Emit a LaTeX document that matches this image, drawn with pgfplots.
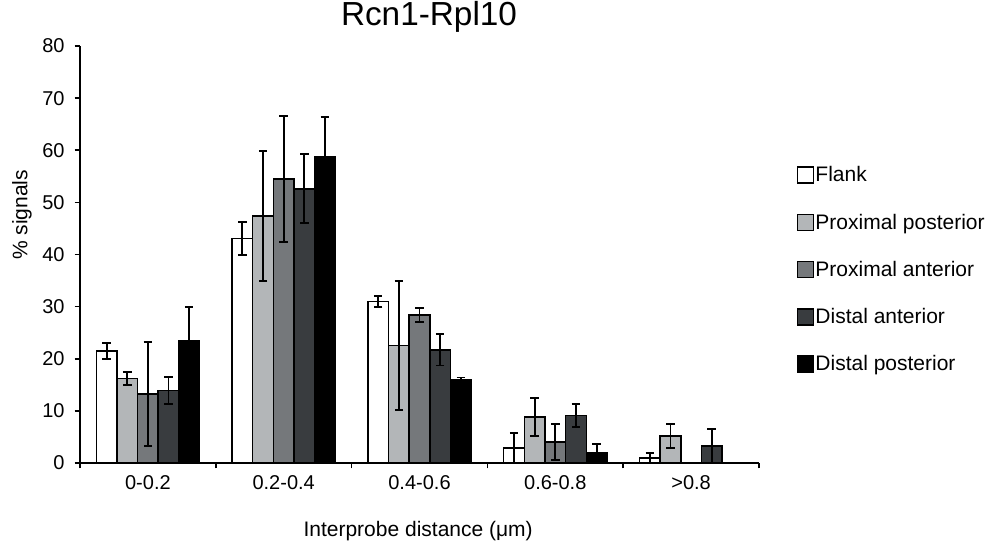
\documentclass[border=0pt]{standalone}
\usepackage{pgfplots}
\pgfplotsset{compat=1.18}
\usepackage{fontspec}
\setmainfont{Liberation Sans}
\definecolor{cLight}{HTML}{B3B6B8}
\definecolor{cMid}{HTML}{75787B}
\definecolor{cDark}{HTML}{393C3F}
\begin{document}
\begin{tikzpicture}
\path[use as bounding box] (0,0) rectangle (741.75pt,405pt);
\begin{axis}[
  at={(60pt,57.75pt)}, anchor=south west,
  scale only axis, width=509.25pt, height=312.75pt,
  xmin=-0.5, xmax=4.5, ymin=0, ymax=80,
  axis x line*=bottom, axis y line*=left,
  axis line style={line width=1.2pt},
  every tick/.style={line width=1.2pt, black},
  tick align=outside, major tick length=4pt,
  xtick={-0.5,0.5,...,4.5},
  x tick label as interval,
  xticklabels={0-0.2,0.2-0.4,0.4-0.6,0.6-0.8,>0.8},
  ytick={0,10,...,80},
  /pgf/number format/assume math mode=true,
  tick label style={font=\fontsize{15}{18}\selectfont},
  yticklabel style={xshift=-4pt},
  xticklabel style={yshift=-2pt},
  ybar=0pt, bar width=0.152,
  title={Rcn1-Rpl10},
  title style={at={(rel axis cs:0.514,1.031)}, anchor=base, font=\fontsize{25}{30}\selectfont},
  xlabel={Interprobe distance (μm)},
  xlabel style={at={(rel axis cs:0.498,-0.177)}, anchor=base, font=\fontsize{15.75}{19}\selectfont},
  ylabel={\% signals},
  ylabel style={at={(rel axis cs:-0.0854,0.595)}, anchor=center, font=\fontsize{15.75}{19}\selectfont},
  legend style={draw=none, fill=none, at={(rel axis cs:1.049,0.721)}, anchor=north west,
    font=\fontsize{15.75}{19}\selectfont, row sep=20.5pt,
    nodes={inner sep=1pt, anchor=west}},
  legend cell align=left,
  legend image code/.code={\draw[#1, line width=1.2pt] (0pt,-6pt) rectangle (12pt,6pt);},
  every axis plot/.append style={draw=black, line width=1.1pt},
  error bars/error bar style={line width=1.4pt, black},
  error bars/error mark options={rotate=90, mark size=3.2pt, line width=1.4pt, black},
]
\addplot[fill=white, error bars/.cd, y dir=both, y explicit] coordinates {
  (0,21.5) +- (0,1.5)
  (1,43.1) +- (0,3.2)
  (2,31.0) +- (0,1.0)
  (3,2.9) +- (0,2.9)
  (4,1.0) +- (0,1.0)
};
\addlegendentry{Flank}
\addplot[fill=cLight, error bars/.cd, y dir=both, y explicit] coordinates {
  (0,16.2) +- (0,1.3)
  (1,47.4) +- (0,12.4)
  (2,22.5) +- (0,12.4)
  (3,8.8) +- (0,3.6)
  (4,5.2) +- (0,2.3)
};
\addlegendentry{Proximal posterior}
\addplot[fill=cMid, error bars/.cd, y dir=both, y explicit] coordinates {
  (0,13.2) +- (0,10.0)
  (1,54.5) +- (0,12.1)
  (2,28.4) +- (0,1.4)
  (3,4.0) +- (0,3.5)
};
\addlegendentry{Proximal anterior}
\addplot[fill=cDark, error bars/.cd, y dir=both, y explicit] coordinates {
  (0,13.9) +- (0,2.6)
  (1,52.6) +- (0,6.6)
  (2,21.7) +- (0,3.0)
  (3,9.1) +- (0,2.2)
  (4,3.3) +- (0,3.2)
};
\addlegendentry{Distal anterior}
\addplot[fill=black, error bars/.cd, y dir=both, y explicit] coordinates {
  (0,23.5) +- (0,6.5)
  (1,58.8) +- (0,7.6)
  (2,15.9) +- (0,0.5)
  (3,2.0) +- (0,1.6)
};
\addlegendentry{Distal posterior}
\end{axis}
\end{tikzpicture}
\end{document}
